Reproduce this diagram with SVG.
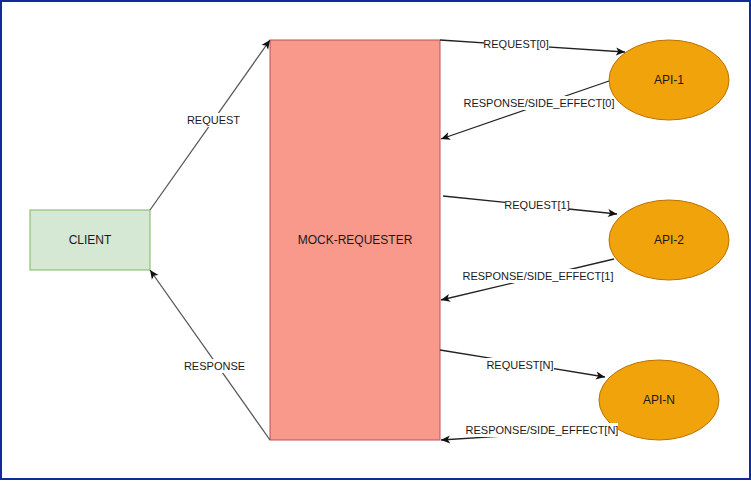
<svg xmlns="http://www.w3.org/2000/svg" width="751" height="481" viewBox="0 0 751 481">
<style>
text{font-family:"Liberation Sans",Arial,sans-serif;fill:#1a1a1a;text-anchor:middle;dominant-baseline:central}
.node{font-size:12px}
.lbl{font-size:11px}
.edge{fill:none;stroke-width:1.3}
.left{stroke:#555}
.right{stroke:#222}
.bg{fill:#fff}
</style>
<defs>
<marker id="ah" viewBox="0 0 10 10" refX="9.5" refY="5" markerWidth="10" markerHeight="10" markerUnits="userSpaceOnUse" orient="auto">
<path d="M0.5,1 L9.5,5 L0.5,9 L2.8,5 z" fill="#111"/>
</marker>
</defs>
<rect x="0" y="0" width="751" height="481" fill="#fff"/>
<rect x="1" y="1" width="749" height="478" fill="none" stroke="#0f2a9a" stroke-width="2"/>

<g id="client">
<rect x="30" y="210" width="120" height="60" fill="#d5e8d4" stroke="#82b366"/>
<text class="node" x="90" y="240">CLIENT</text>
</g>
<g id="mock-requester">
<rect x="270" y="40" width="170" height="400" fill="#f8998c" stroke="#b85450"/>
<text class="node" x="355" y="240">MOCK-REQUESTER</text>
</g>
<g id="api-1">
<ellipse cx="669" cy="80" rx="60" ry="40" fill="#f0a30a" stroke="#bd7000"/>
<text class="node" x="669" y="80">API-1</text>
</g>
<g id="api-2">
<ellipse cx="669" cy="240" rx="60" ry="40" fill="#f0a30a" stroke="#bd7000"/>
<text class="node" x="669" y="240">API-2</text>
</g>
<g id="api-n">
<ellipse cx="659" cy="400" rx="60" ry="40" fill="#f0a30a" stroke="#bd7000"/>
<text class="node" x="659" y="400">API-N</text>
</g>

<g id="connectors">
<path class="edge left" d="M150,210 L270,40" marker-end="url(#ah)"/>
<path class="edge left" d="M270,440 L150,270" marker-end="url(#ah)"/>
<path class="edge right" d="M440,40 L625,52" marker-end="url(#ah)"/>
<path class="edge right" d="M609,81 L441,139" marker-end="url(#ah)"/>
<path class="edge right" d="M443,196 L617,214" marker-end="url(#ah)"/>
<path class="edge right" d="M614,259 L441,300" marker-end="url(#ah)"/>
<path class="edge right" d="M440,350 L605,377" marker-end="url(#ah)"/>
<path class="edge right" d="M616,429 L441,440" marker-end="url(#ah)"/>

<rect class="bg" x="186" y="113" width="55" height="14"/>
<text class="lbl" x="213.5" y="120">REQUEST</text>
<rect class="bg" x="183" y="359" width="63" height="14"/>
<text class="lbl" x="214.5" y="366">RESPONSE</text>
<rect class="bg" x="484" y="37" width="65" height="14"/>
<text class="lbl" x="516" y="44">REQUEST[0]</text>
<rect class="bg" x="464" y="96" width="150" height="14"/>
<text class="lbl" x="539" y="103">RESPONSE/SIDE_EFFECT[0]</text>
<rect class="bg" x="505" y="198" width="64" height="14"/>
<text class="lbl" x="537" y="205">REQUEST[1]</text>
<rect class="bg" x="463" y="269" width="150" height="14"/>
<text class="lbl" x="538" y="276">RESPONSE/SIDE_EFFECT[1]</text>
<rect class="bg" x="486" y="358" width="68" height="14"/>
<text class="lbl" x="520" y="365">REQUEST[N]</text>
<rect class="bg" x="466" y="423" width="152" height="14"/>
<text class="lbl" x="542" y="430">RESPONSE/SIDE_EFFECT[N]</text>
</g>
</svg>
